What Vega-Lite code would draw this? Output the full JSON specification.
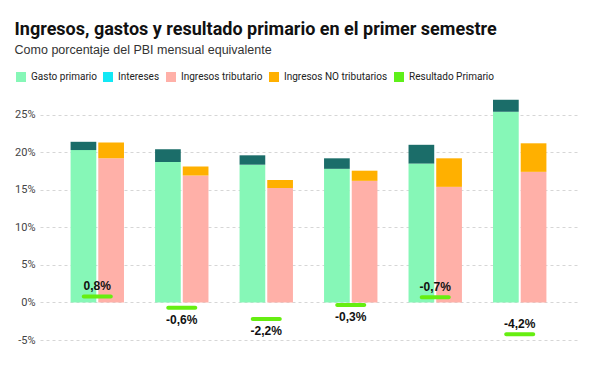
{
  "$schema": "https://vega.github.io/schema/vega-lite/v6.json",
  "width": 537,
  "height": 244,
  "autosize": "none",
  "padding": {"left": 40, "top": 96, "right": 23, "bottom": 25},
  "background": "white",
  "title": {
    "text": "Ingresos, gastos y resultado primario en el primer semestre",
    "subtitle": "Como porcentaje del PBI mensual equivalente",
    "anchor": "start",
    "offset": 16,
    "font": "Roboto, sans-serif",
    "fontSize": 18,
    "fontWeight": "bold",
    "color": "#111111",
    "subtitleFont": "Liberation Sans, Arial, sans-serif",
    "subtitleFontSize": 12.5,
    "subtitleColor": "#333333",
    "subtitlePadding": 5
  },
  "datasets": {
    "barras": [
      {"periodo": "1", "lado": "gasto", "componente": "Gasto primario", "orden": 1, "valor": 20.3},
      {"periodo": "1", "lado": "gasto", "componente": "Intereses", "orden": 2, "valor": 1.1},
      {"periodo": "1", "lado": "ingresos", "componente": "Ingresos tributario", "orden": 1, "valor": 19.2},
      {"periodo": "1", "lado": "ingresos", "componente": "Ingresos NO tributarios", "orden": 2, "valor": 2.1},
      {"periodo": "2", "lado": "gasto", "componente": "Gasto primario", "orden": 1, "valor": 18.7},
      {"periodo": "2", "lado": "gasto", "componente": "Intereses", "orden": 2, "valor": 1.7},
      {"periodo": "2", "lado": "ingresos", "componente": "Ingresos tributario", "orden": 1, "valor": 16.9},
      {"periodo": "2", "lado": "ingresos", "componente": "Ingresos NO tributarios", "orden": 2, "valor": 1.2},
      {"periodo": "3", "lado": "gasto", "componente": "Gasto primario", "orden": 1, "valor": 18.35},
      {"periodo": "3", "lado": "gasto", "componente": "Intereses", "orden": 2, "valor": 1.25},
      {"periodo": "3", "lado": "ingresos", "componente": "Ingresos tributario", "orden": 1, "valor": 15.25},
      {"periodo": "3", "lado": "ingresos", "componente": "Ingresos NO tributarios", "orden": 2, "valor": 1.05},
      {"periodo": "4", "lado": "gasto", "componente": "Gasto primario", "orden": 1, "valor": 17.8},
      {"periodo": "4", "lado": "gasto", "componente": "Intereses", "orden": 2, "valor": 1.4},
      {"periodo": "4", "lado": "ingresos", "componente": "Ingresos tributario", "orden": 1, "valor": 16.2},
      {"periodo": "4", "lado": "ingresos", "componente": "Ingresos NO tributarios", "orden": 2, "valor": 1.35},
      {"periodo": "5", "lado": "gasto", "componente": "Gasto primario", "orden": 1, "valor": 18.5},
      {"periodo": "5", "lado": "gasto", "componente": "Intereses", "orden": 2, "valor": 2.5},
      {"periodo": "5", "lado": "ingresos", "componente": "Ingresos tributario", "orden": 1, "valor": 15.4},
      {"periodo": "5", "lado": "ingresos", "componente": "Ingresos NO tributarios", "orden": 2, "valor": 3.8},
      {"periodo": "6", "lado": "gasto", "componente": "Gasto primario", "orden": 1, "valor": 25.4},
      {"periodo": "6", "lado": "gasto", "componente": "Intereses", "orden": 2, "valor": 1.6},
      {"periodo": "6", "lado": "ingresos", "componente": "Ingresos tributario", "orden": 1, "valor": 17.4},
      {"periodo": "6", "lado": "ingresos", "componente": "Ingresos NO tributarios", "orden": 2, "valor": 3.8}
    ],
    "resultado": [
      {"periodo": "1", "resultado": 0.8, "etiqueta": "0,8%"},
      {"periodo": "2", "resultado": -0.7, "etiqueta": "-0,6%"},
      {"periodo": "3", "resultado": -2.2, "etiqueta": "-2,2%"},
      {"periodo": "4", "resultado": -0.35, "etiqueta": "-0,3%"},
      {"periodo": "5", "resultado": 0.7, "etiqueta": "-0,7%"},
      {"periodo": "6", "resultado": -4.25, "etiqueta": "-4,2%"}
    ]
  },
  "layer": [
    {
      "data": {"name": "barras"},
      "mark": {"type": "bar"},
      "encoding": {
        "x": {"field": "periodo", "type": "nominal", "sort": null, "axis": null,
              "scale": {"paddingInner": 0.368, "paddingOuter": 0.362}},
        "xOffset": {"field": "lado", "type": "nominal", "sort": ["gasto", "ingresos"],
                    "scale": {"paddingInner": 0.072, "paddingOuter": 0}},
        "y": {"field": "valor", "type": "quantitative", "stack": "zero",
              "scale": {"domain": [-5, 27.5], "nice": false, "zero": false},
              "axis": {"values": [-5, 0, 5, 10, 15, 20, 25], "labelExpr": "datum.value + '%'",
                       "title": null, "domain": false, "ticks": false, "labelPadding": 5,
                       "grid": true, "gridDash": [3, 3], "gridColor": "#d6d6d6",
                       "labelFont": "Roboto, sans-serif",
                       "labelFontSize": 11, "labelColor": "#444444"}},
        "color": {
          "field": "componente", "type": "nominal",
          "condition": {"test": "datum.componente === 'Intereses'", "value": "#1b6d69"},
          "scale": {
            "domain": ["Gasto primario", "Intereses", "Ingresos tributario", "Ingresos NO tributarios", "Resultado Primario"],
            "range": ["#86f7b7", "#12e8f5", "#ffb0a8", "#ffb000", "#5ef01a"]
          },
          "legend": {
            "orient": "none", "legendX": -24, "legendY": -24, "direction": "horizontal",
            "title": null, "symbolType": "square", "symbolSize": 100, "symbolStrokeWidth": 0,
            "symbolOpacity": 1,
            "labelFont": "Roboto, sans-serif",
            "labelFontSize": 10, "labelColor": "#222222", "labelOffset": 5, "columnPadding": 6
          }
        },
        "order": {"field": "orden", "type": "quantitative"}
      }
    },
    {
      "mark": {"type": "rule", "color": "#bbbbbb", "strokeWidth": 1.5},
      "encoding": {"y": {"datum": 0}}
    },
    {
      "data": {"name": "resultado"},
      "mark": {"type": "tick", "color": "#66ee11", "opacity": 1, "size": 31, "thickness": 4, "cornerRadius": 2},
      "encoding": {
        "x": {"field": "periodo", "type": "nominal", "sort": null},
        "y": {"field": "resultado", "type": "quantitative"}
      }
    },
    {
      "data": {"name": "resultado"},
      "transform": [{"filter": {"field": "periodo", "oneOf": ["1", "5", "6"]}}],
      "mark": {"type": "text", "dy": -10, "fontWeight": "bold", "fontSize": 12,
               "font": "Liberation Sans, Arial, sans-serif", "color": "#111111"},
      "encoding": {
        "x": {"field": "periodo", "type": "nominal", "sort": null},
        "y": {"field": "resultado", "type": "quantitative"},
        "text": {"field": "etiqueta"}
      }
    },
    {
      "data": {"name": "resultado"},
      "transform": [{"filter": {"not": {"field": "periodo", "oneOf": ["1", "5", "6"]}}}],
      "mark": {"type": "text", "dy": 12, "fontWeight": "bold", "fontSize": 12,
               "font": "Liberation Sans, Arial, sans-serif", "color": "#111111"},
      "encoding": {
        "x": {"field": "periodo", "type": "nominal", "sort": null},
        "y": {"field": "resultado", "type": "quantitative"},
        "text": {"field": "etiqueta"}
      }
    }
  ],
  "config": {
    "view": {"stroke": null}
  }
}
